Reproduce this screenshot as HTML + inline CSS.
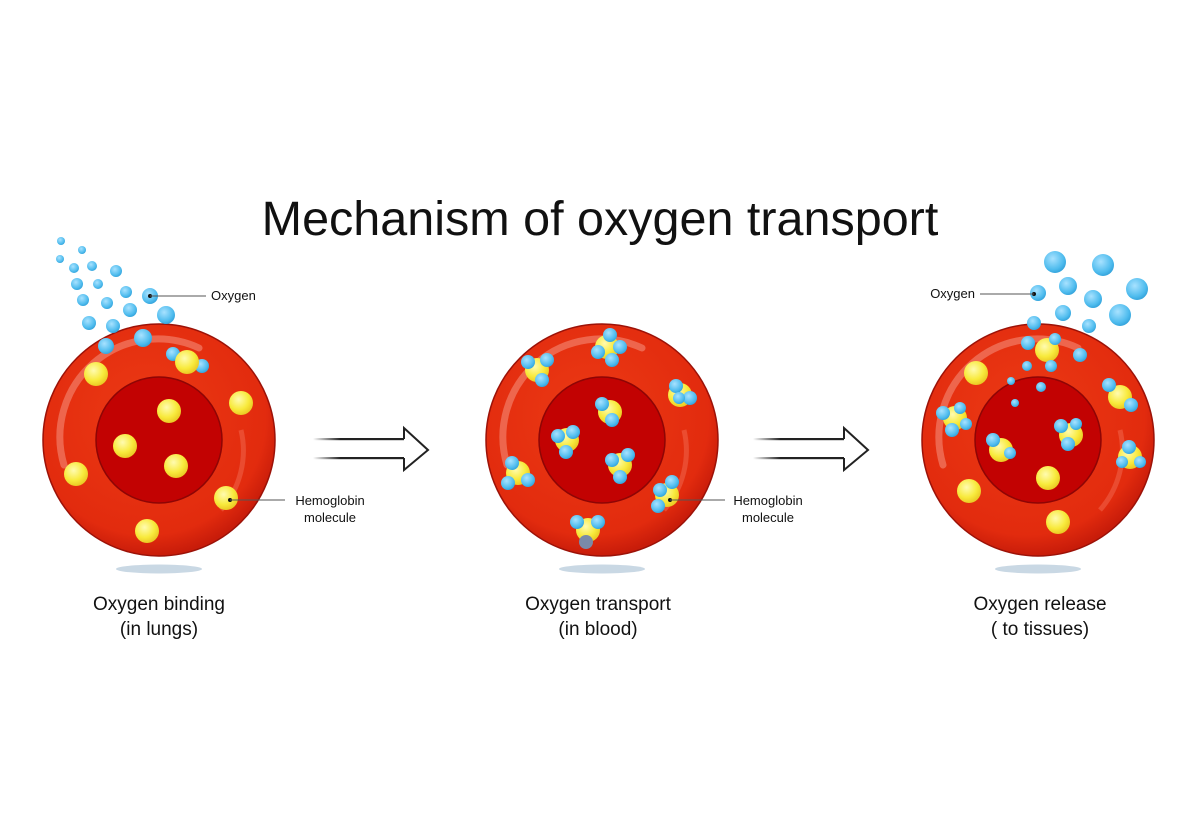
<!DOCTYPE html>
<html><head><meta charset="utf-8"><style>
html,body{margin:0;padding:0;background:#fff;}
svg{display:block}
text{font-family:"Liberation Sans",Arial,sans-serif;fill:#111}
</style></head><body>
<svg width="1200" height="836" viewBox="0 0 1200 836" xmlns="http://www.w3.org/2000/svg">
<defs>
<radialGradient id="cell" cx="0.45" cy="0.4" r="0.6">
<stop offset="0" stop-color="#ec3a14"/><stop offset="0.85" stop-color="#e22b0e"/><stop offset="1" stop-color="#c81c0a"/></radialGradient>
<radialGradient id="yel" cx="0.4" cy="0.35" r="0.7">
<stop offset="0" stop-color="#fffbb0"/><stop offset="0.6" stop-color="#f8ea3c"/><stop offset="1" stop-color="#e8c420"/></radialGradient>
<radialGradient id="blu" cx="0.4" cy="0.35" r="0.7">
<stop offset="0" stop-color="#a8e2ff"/><stop offset="0.7" stop-color="#4fbcee"/><stop offset="1" stop-color="#2f9fd8"/></radialGradient>
<linearGradient id="fade" x1="0" x2="1" y1="0" y2="0">
<stop offset="0" stop-color="#222" stop-opacity="0"/><stop offset="0.3" stop-color="#222" stop-opacity="1"/><stop offset="1" stop-color="#222"/></linearGradient>
<g id="c">
<ellipse cx="0" cy="129" rx="43" ry="4.5" fill="#c9d8e4"/>
<circle r="116" fill="url(#cell)" stroke="#9c1208" stroke-width="1.5"/>
<path d="M-95,25 A98,98 0 0 1 40,-92" stroke="#f48a76" stroke-width="7" fill="none" stroke-linecap="round" opacity="0.6"/>
<path d="M62,70 A90,90 0 0 0 82,-10" stroke="#f26a52" stroke-width="5" fill="none" opacity="0.5"/>
<circle r="63" fill="#c20202" stroke="#8e0505" stroke-width="1.5"/>
</g>
<g id="arr">
<rect x="0" y="-12" width="92" height="2.2" fill="url(#fade)"/>
<rect x="0" y="7" width="92" height="2.2" fill="url(#fade)"/>
<path d="M91,-11 V-22 L115,0 L91,20 V8" fill="#fff" stroke="#222" stroke-width="2" stroke-linejoin="miter"/>
</g>
</defs>

<text x="600" y="235" font-size="48.5" text-anchor="middle">Mechanism of oxygen transport</text>

<!-- Cell 1 -->
<use href="#c" x="159" y="440"/>
<g fill="url(#blu)">
<circle cx="61" cy="241" r="4"/><circle cx="82" cy="250" r="4"/><circle cx="60" cy="259" r="4"/><circle cx="74" cy="268" r="5"/><circle cx="92" cy="266" r="5"/><circle cx="116" cy="271" r="6"/><circle cx="77" cy="284" r="6"/><circle cx="98" cy="284" r="5"/><circle cx="126" cy="292" r="6"/><circle cx="150" cy="296" r="8"/><circle cx="83" cy="300" r="6"/><circle cx="107" cy="303" r="6"/><circle cx="130" cy="310" r="7"/><circle cx="166" cy="315" r="9"/><circle cx="89" cy="323" r="7"/><circle cx="113" cy="326" r="7"/><circle cx="143" cy="338" r="9"/><circle cx="106" cy="346" r="8"/><circle cx="173" cy="354" r="7"/><circle cx="202" cy="366" r="7"/>
</g>
<g fill="url(#yel)">
<circle cx="96" cy="374" r="12"/><circle cx="187" cy="362" r="12"/><circle cx="241" cy="403" r="12"/><circle cx="169" cy="411" r="12"/><circle cx="125" cy="446" r="12"/><circle cx="176" cy="466" r="12"/><circle cx="76" cy="474" r="12"/><circle cx="226" cy="498" r="12"/><circle cx="147" cy="531" r="12"/>
</g>
<circle cx="150" cy="296" r="2" fill="#111"/><line x1="150" y1="296" x2="206" y2="296" stroke="#555"/>
<text x="211" y="300" font-size="13">Oxygen</text>
<circle cx="230" cy="500" r="2" fill="#111"/><line x1="230" y1="500" x2="285" y2="500" stroke="#555"/>
<text x="330" y="505" font-size="13" text-anchor="middle">Hemoglobin</text><text x="330" y="522" font-size="13" text-anchor="middle">molecule</text>
<text x="159" y="610" font-size="19" text-anchor="middle">Oxygen binding</text><text x="159" y="635" font-size="19" text-anchor="middle">(in lungs)</text>

<!-- Arrows -->
<use href="#arr" x="313" y="450"/>
<use href="#arr" x="753" y="450"/>

<!-- Cell 2 -->
<use href="#c" x="602" y="440"/>
<g fill="url(#yel)">
<circle cx="537" cy="370" r="12"/><circle cx="607" cy="347" r="12"/><circle cx="680" cy="395" r="12"/><circle cx="567" cy="440" r="12"/><circle cx="610" cy="412" r="12"/><circle cx="620" cy="465" r="12"/><circle cx="518" cy="473" r="12"/><circle cx="667" cy="495" r="12"/><circle cx="588" cy="530" r="12"/>
</g>
<g fill="url(#blu)">
<circle cx="528" cy="362" r="7"/><circle cx="547" cy="360" r="7"/><circle cx="542" cy="380" r="7"/>
<circle cx="598" cy="352" r="7"/><circle cx="610" cy="335" r="7"/><circle cx="620" cy="347" r="7"/><circle cx="612" cy="360" r="7"/>
<circle cx="676" cy="386" r="7"/><circle cx="690" cy="398" r="7"/><circle cx="679" cy="398" r="6"/>
<circle cx="602" cy="404" r="7"/><circle cx="612" cy="420" r="7"/>
<circle cx="558" cy="436" r="7"/><circle cx="573" cy="432" r="7"/><circle cx="566" cy="452" r="7"/>
<circle cx="612" cy="460" r="7"/><circle cx="628" cy="455" r="7"/><circle cx="620" cy="477" r="7"/>
<circle cx="512" cy="463" r="7"/><circle cx="528" cy="480" r="7"/><circle cx="508" cy="483" r="7"/>
<circle cx="660" cy="490" r="7"/><circle cx="672" cy="482" r="7"/><circle cx="658" cy="506" r="7"/>
<circle cx="577" cy="522" r="7"/><circle cx="598" cy="522" r="7"/><circle cx="586" cy="542" r="7" fill="#7a8aa8"/>
</g>
<circle cx="670" cy="500" r="2" fill="#111"/><line x1="670" y1="500" x2="725" y2="500" stroke="#555"/>
<text x="768" y="505" font-size="13" text-anchor="middle">Hemoglobin</text><text x="768" y="522" font-size="13" text-anchor="middle">molecule</text>
<text x="598" y="610" font-size="19" text-anchor="middle">Oxygen transport</text><text x="598" y="635" font-size="19" text-anchor="middle">(in blood)</text>

<!-- Cell 3 -->
<use href="#c" x="1038" y="440"/>
<g fill="url(#yel)">
<circle cx="1047" cy="350" r="12"/><circle cx="976" cy="373" r="12"/><circle cx="1120" cy="397" r="12"/><circle cx="955" cy="418" r="12"/><circle cx="1001" cy="450" r="12"/><circle cx="1071" cy="435" r="12"/><circle cx="1130" cy="457" r="12"/><circle cx="1048" cy="478" r="12"/><circle cx="969" cy="491" r="12"/><circle cx="1058" cy="522" r="12"/>
</g>
<g fill="url(#blu)">
<circle cx="1055" cy="262" r="11"/><circle cx="1103" cy="265" r="11"/><circle cx="1068" cy="286" r="9"/><circle cx="1137" cy="289" r="11"/><circle cx="1038" cy="293" r="8"/><circle cx="1093" cy="299" r="9"/><circle cx="1063" cy="313" r="8"/><circle cx="1120" cy="315" r="11"/><circle cx="1089" cy="326" r="7"/><circle cx="1034" cy="323" r="7"/>
<circle cx="1028" cy="343" r="7"/><circle cx="1055" cy="339" r="6"/><circle cx="1080" cy="355" r="7"/><circle cx="1027" cy="366" r="5"/><circle cx="1051" cy="366" r="6"/><circle cx="1011" cy="381" r="4"/><circle cx="1041" cy="387" r="5"/><circle cx="1015" cy="403" r="4"/>
<circle cx="1109" cy="385" r="7"/><circle cx="1131" cy="405" r="7"/>
<circle cx="943" cy="413" r="7"/><circle cx="960" cy="408" r="6"/><circle cx="952" cy="430" r="7"/><circle cx="966" cy="424" r="6"/>
<circle cx="993" cy="440" r="7"/><circle cx="1010" cy="453" r="6"/>
<circle cx="1061" cy="426" r="7"/><circle cx="1076" cy="424" r="6"/><circle cx="1068" cy="444" r="7"/>
<circle cx="1129" cy="447" r="7"/><circle cx="1122" cy="462" r="6"/><circle cx="1140" cy="462" r="6"/>
</g>
<circle cx="1034" cy="294" r="2" fill="#111"/><line x1="980" y1="294" x2="1034" y2="294" stroke="#555"/>
<text x="975" y="298" font-size="13" text-anchor="end">Oxygen</text>
<text x="1040" y="610" font-size="19" text-anchor="middle">Oxygen release</text><text x="1040" y="635" font-size="19" text-anchor="middle">( to tissues)</text>
</svg>
</body></html>
